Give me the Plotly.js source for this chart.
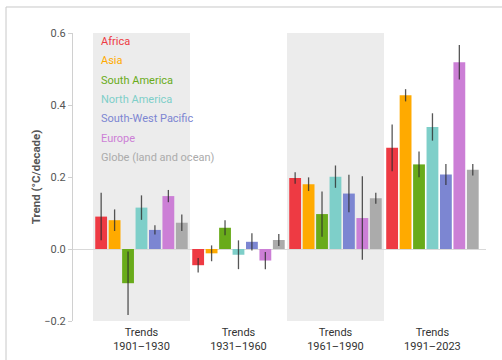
<!DOCTYPE html>
<html>
<head>
<meta charset="utf-8">
<script src="https://cdn.plot.ly/plotly-3.0.1.min.js"></script>
<style>html,body{margin:0;padding:0;background:#fff;}#chart{width:502px;height:360px;}</style>
</head>
<body>
<div id="chart"></div>
<script>
// ---- data ----
var periods = ['Trends<br>1901–1930', 'Trends<br>1931–1960', 'Trends<br>1961–1990', 'Trends<br>1991–2023'];
var seriesNames = ['Africa', 'Asia', 'South America', 'North America', 'South-West Pacific', 'Europe', 'Globe (land and ocean)'];
var seriesColors = ['#ee3a43', '#ffaa00', '#69ab1a', '#7ecfc9', '#7c86d2', '#cc7fd6', '#ababab'];

var africa = [0.090, -0.045, 0.197, 0.281];
var africaErr = [0.066, 0.020, 0.016, 0.065];
var asia = [0.080, -0.012, 0.180, 0.427];
var asiaErr = [0.030, 0.022, 0.019, 0.017];
var southAmerica = [-0.095, 0.059, 0.097, 0.235];
var southAmericaErr = [0.088, 0.021, 0.063, 0.036];
var northAmerica = [0.115, -0.016, 0.201, 0.339];
var northAmericaErr = [0.034, 0.040, 0.031, 0.038];
var swPacific = [0.053, 0.020, 0.154, 0.207];
var swPacificErr = [0.013, 0.024, 0.052, 0.029];
var europe = [0.147, -0.032, 0.086, 0.519];
var europeErr = [0.017, 0.024, 0.116, 0.048];
var globe = [0.073, 0.025, 0.141, 0.220];
var globeErr = [0.023, 0.017, 0.015, 0.016];

var yTicks = [-0.2, 0.0, 0.2, 0.4, 0.6];
var shadedGroups = [0, 2];

// ---- build ----
var values = [africa, asia, southAmerica, northAmerica, swPacific, europe, globe];
var errors = [africaErr, asiaErr, southAmericaErr, northAmericaErr, swPacificErr, europeErr, globeErr];
var FONT = 'Roboto, "Liberation Sans", Arial, sans-serif';

var traces = seriesNames.map(function (name, i) {
  return {
    type: 'bar',
    name: name,
    x: periods,
    y: values[i],
    marker: {color: seriesColors[i], line: {width: 0}},
    error_y: {type: 'data', array: errors[i], visible: true, color: 'rgba(45,45,45,0.8)', thickness: 1.3, width: 0}
  };
});

var shapes = shadedGroups.map(function (g) {
  return {type: 'rect', xref: 'x', yref: 'y', x0: g - 0.5, x1: g + 0.5, y0: -0.2, y1: 0.6,
          fillcolor: '#ececec', line: {width: 0}, layer: 'below'};
});
// outer frame
shapes.push({type: 'path', xref: 'paper', yref: 'paper', path: 'M -0.1622 -0.3 L -0.1622 1.0903 L 1.2 1.0903',
             line: {color: '#c8c8c8', width: 1}, layer: 'above'});

var annotations = seriesNames.map(function (name, i) {
  return {xref: 'paper', yref: 'paper', x: 0.063, y: 0.9722 - i * 0.0677, xanchor: 'left', yanchor: 'middle',
          text: name, showarrow: false, font: {family: FONT, size: 11, color: seriesColors[i]}};
});

var layout = {
  width: 502, height: 360,
  margin: {l: 73, r: 16, t: 33, b: 39, pad: 0},
  paper_bgcolor: '#ffffff', plot_bgcolor: 'rgba(0,0,0,0)',
  barmode: 'group', bargap: 0.03, bargroupgap: 0.12,
  showlegend: false,
  font: {family: FONT, size: 11, color: '#333'},
  xaxis: {type: 'category', range: [-0.706, 3.552], showgrid: false, zeroline: false, showline: false, ticks: '',
          ticklabelstandoff: 3,
          tickfont: {family: FONT, size: 11, color: '#333'}, fixedrange: true},
  yaxis: {range: [-0.2, 0.6], tickvals: yTicks, tickformat: '.1f', showgrid: false,
          zeroline: true, zerolinecolor: '#d9d9d9', zerolinewidth: 1,
          showline: true, linecolor: '#d0d0d0', linewidth: 1, ticks: 'outside', ticklen: 4, tickcolor: '#d0d0d0',
          tickfont: {family: FONT, size: 11, color: '#555'},
          title: {text: 'Trend (°C/decade)', font: {family: FONT, size: 11.5, color: '#555', weight: 'bold'}}},
  shapes: shapes,
  annotations: annotations
};

Plotly.newPlot('chart', traces, layout, {displayModeBar: false, staticPlot: true});
</script>
</body>
</html>
